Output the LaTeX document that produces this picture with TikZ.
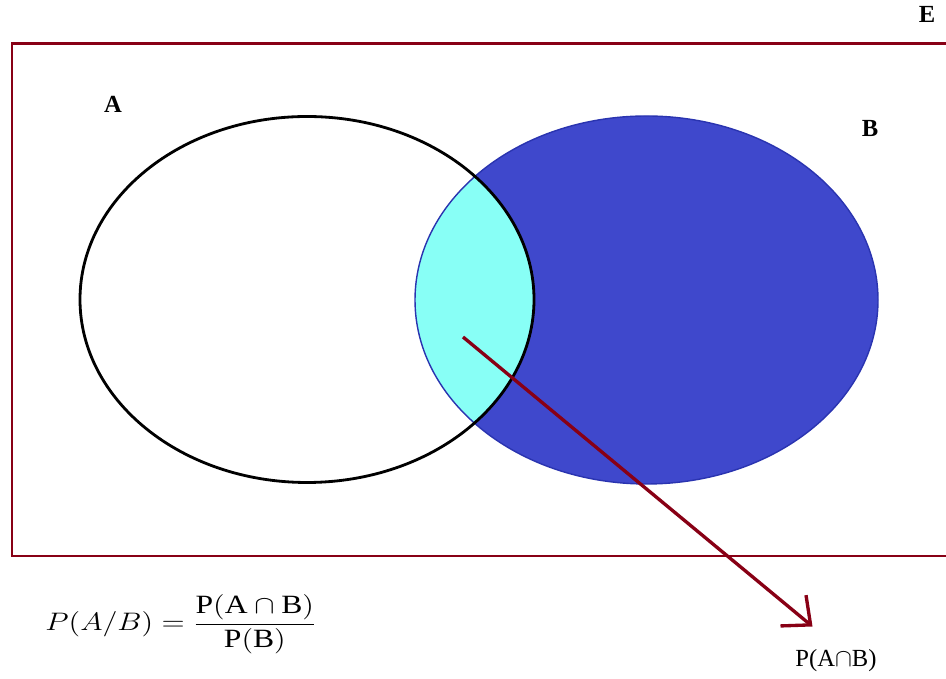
\documentclass[tikz,border=0pt]{standalone}
\usepackage{fontspec}
\setmainfont{Liberation Serif}
\usepackage{tikz}
\usetikzlibrary{arrows.meta, positioning}
\definecolor{bordeaux}{HTML}{880015}
\definecolor{bleu}{HTML}{3F48CC}
\definecolor{cyan}{HTML}{88FFF6}
\definecolor{bleufonce}{HTML}{2A34B0}

\begin{document}
\begin{tikzpicture}[
    lettre/.style={font=\fontsize{14}{16}\selectfont\bfseries, inner sep=0pt},
    fleche/.style={bordeaux, line width=1.9pt, -{Straight Barb[length=4.5mm, width=8mm, line width=1.9pt]}}
  ]
    \useasboundingbox (0,0) rectangle (18.92,13.58);
    % Univers
    \draw[bordeaux, line width=1.7pt] (19.6,12.7) -- (0.24,12.7) -- (0.24,2.46) -- (19.6,2.46);
    \node[lettre] (E) at (18.54,13.3) {E};
    % Ensembles
    \fill[bleu] (12.93,7.58) ellipse [x radius=4.63, y radius=3.68];
    \begin{scope}
      \clip (12.93,7.58) ellipse [x radius=4.63, y radius=3.68];
      \fill[cyan] (6.14,7.59) ellipse [x radius=4.54, y radius=3.66];
    \end{scope}
    \draw[bleufonce, line width=0.8pt] (12.93,7.58) ellipse [x radius=4.63, y radius=3.68];
    \draw[black, line width=1.6pt] (6.14,7.59) ellipse [x radius=4.54, y radius=3.66];
    \node[lettre] (A) at (2.26,11.5) {A};
    \node[lettre] (B) at (17.4,11.02) {B};
    % Intersection
    \coordinate (inter) at (9.26,6.84);
    \coordinate (bout) at (16.25,1.05);
    \draw[fleche] (inter) -- (bout);
    \node[font=\fontsize{14}{16}\selectfont, inner sep=0pt] (pab) at (16.72,0.36) {P(A$\cap$B)};
    % Formule
    \node[font=\fontsize{15}{18}\selectfont, inner sep=0pt] (formule) at (3.62,1.1)
      {\scalebox{1.2}[1]{$\displaystyle P(A/B)=\frac{\mathrm{P(A\cap B)}}{\mathrm{P(B)}}$}};
  \end{tikzpicture}
\end{document}
